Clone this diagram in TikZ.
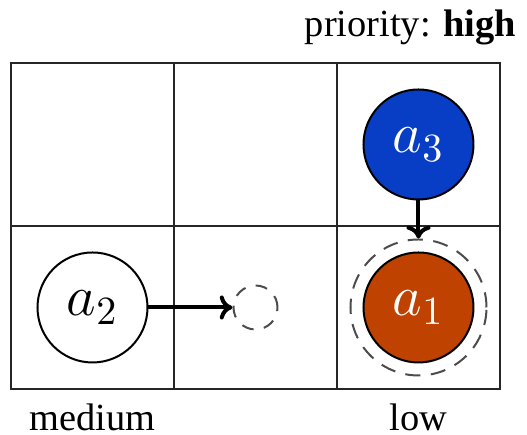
\documentclass[tikz,border=0pt]{standalone}
\usepackage{fontspec}
\setmainfont{Liberation Serif}
\usepackage{tikz}
\usetikzlibrary{arrows.meta, positioning}

\definecolor{agentblue}{RGB}{8,62,198}
\definecolor{agentrust}{RGB}{192,66,0}

\begin{document}
\begin{tikzpicture}[
        x=0.25pt, y=-0.25pt,
        cell/.style={
            draw=black!85,
            line width=0.55pt
        },
        agent/.style={
            circle,
            draw=black,
            line width=0.5pt,
            minimum size=27.5pt,
            inner sep=0pt,
            font=\Large
        },
        ring/.style={
            circle,
            draw=black!70,
            line width=0.5pt,
            dash pattern=on 3.8pt off 2.6pt,
            inner sep=0pt
        },
        move/.style={
            -{To[length=3.2pt,width=6pt]},
            line width=1pt,
            draw=black
        },
        prio/.style={
            inner sep=0pt,
            font=\fontsize{9.6}{11}\selectfont
        }
    ]
    \useasboundingbox (0,0) rectangle (527,435);

    % Grid of 3x2 cells
    \draw[cell] (11,63) rectangle (500,389);
    \foreach \x in {174,337} {
        \draw[cell] (\x,63) -- (\x,389);
    }
    \draw[cell] (11,226) -- (500,226);

    % Agents
    \node[agent, fill=agentblue, text=white] (a3) at (418.5,144.5) {$a_3$};
    \node[agent, fill=agentrust, text=white] (a1) at (418.5,307.5) {$a_1$};
    \node[agent, fill=white] (a2) at (92.5,307.5) {$a_2$};

    % Dashed target rings
    \node[ring, minimum size=34pt] (a1ring) at (a1) {};
    \node[ring, minimum size=11pt, dash pattern=on 3pt off 2.6pt] (a2goal) at (255.5,307.5) {};

    % Moves
    \draw[move] (a2.east) -- (a2goal.west);
    \draw[move] (a3.south) -- (a1ring.north);

    % Priority labels
    \node[prio, anchor=base east] (high) at (517,37) {priority: \textbf{high}};
    \node[prio, anchor=base] (medium) at (92.5,431) {medium};
    \node[prio, anchor=base] (low) at (418.5,431) {low};

\end{tikzpicture}
\end{document}
